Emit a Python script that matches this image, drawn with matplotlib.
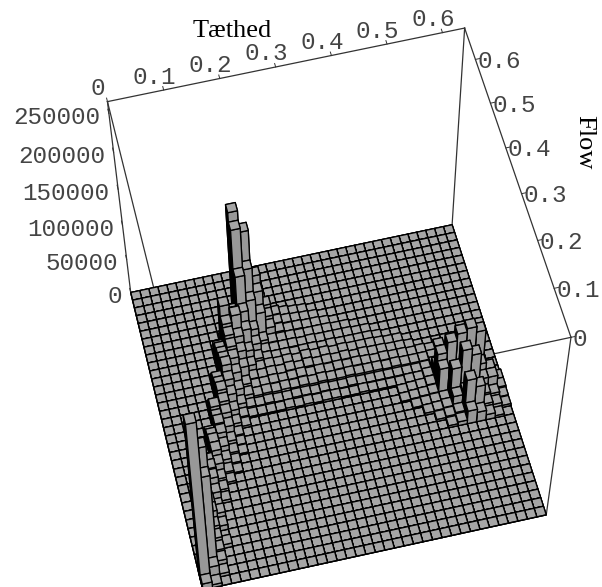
# 3D histogram of flow against density
import numpy as np
import matplotlib
matplotlib.use('Agg')
import matplotlib.pyplot as plt

n_cols = 36
n_rows = 36
t_max = 0.64
f_max = 0.673
z_max = 265000

t_ticks = [0, 0.1, 0.2, 0.3, 0.4, 0.5, 0.6]
f_ticks = [0, 0.1, 0.2, 0.3, 0.4, 0.5, 0.6]
z_ticks = [0, 50000, 100000, 150000, 200000, 250000]

# rows are counted from the back edge of the floor, heights in thousands
back_rows = [5, 6, 7, 8, 9, 10, 11, 12, 13, 14, 15, 16, 17, 18, 19, 20, 21, 22, 23, 24,
             25, 26, 27, 28, 29, 30, 31, 32, 33, 34, 35]
first_cols = [10, 9, 9, 8, 8, 7, 7, 7, 6, 6, 6, 5, 5, 5, 4, 4, 4, 3, 3, 3,
              2, 2, 2, 2, 1, 1, 1, 1, 1, 0, 0]
heights_k = [
    [3],
    [5, 168, 138, 72, 25, 8, 5, 3, 2],
    [15, 155, 96, 60, 20, 7, 5, 4, 3, 2],
    [10, 50, 100, 62, 40, 15, 6, 4, 4, 3, 3, 2],
    [75, 58, 60, 30, 10, 5, 4, 4, 3, 3, 3, 3, 2, 2],
    [25, 60, 70, 45, 20, 5, 4, 4, 4, 3, 4, 3, 3, 3, 3, 2, 2],
    [35, 55, 50, 25, 10, 5, 4, 4, 3, 4, 4, 3, 4, 3, 3, 3, 3, 2],
    [40, 50, 40, 15, 6, 7, 6, 7, 5, 8, 6, 7, 5, 6, 5, 5, 5, 4, 3, 3],
    [15, 45, 45, 28, 7, 6, 7, 6, 8, 6, 8, 6, 7, 6, 7, 5, 6, 5, 5, 4, 4, 3],
    [30, 50, 35, 14, 6, 6, 7, 6, 7, 8, 6, 7, 6, 7, 6, 7, 6, 5, 6, 5, 5, 4, 5, 4, 8],
    [35, 40, 22, 10, 6, 7, 6, 7, 6, 7, 6, 7, 6, 6, 7, 6, 6, 6, 5, 6, 5, 5, 5, 6, 10, 12],
    [15, 40, 30, 12, 4, 3, 4, 3, 3, 4, 4, 3, 4, 3, 3, 4, 3, 3, 3, 3, 3, 3, 3, 4, 8, 14, 16, 10],
    [30, 35, 18, 5, 2, 2, 2, 2, 3, 2, 3, 2, 3, 3, 2, 2, 3, 2, 2, 2, 2, 3, 3, 6, 20, 25, 30, 25],
    [25, 30, 10, 3, 0, 0, 0, 0, 0, 0, 0, 0, 0, 0, 0, 0, 0, 0, 0, 0, 2, 3, 4, 6, 50, 65, 75, 80, 72, 8],
    [15, 30, 22, 5, 0, 0, 0, 0, 0, 0, 0, 0, 0, 0, 0, 0, 0, 0, 0, 0, 0, 2, 3, 4, 5, 40, 30, 30, 30, 35, 25, 6],
    [25, 28, 12, 3, 0, 0, 0, 0, 0, 0, 0, 0, 0, 0, 0, 0, 0, 0, 0, 0, 0, 0, 2, 3, 4, 5, 50, 75, 65, 25, 25, 6],
    [30, 20, 7, 2, 0, 0, 0, 0, 0, 0, 0, 0, 0, 0, 0, 0, 0, 0, 0, 0, 0, 0, 0, 3, 4, 6, 20, 25, 20, 15, 12, 4],
    [12, 30, 12, 4, 0, 0, 0, 0, 0, 0, 0, 0, 0, 0, 0, 0, 0, 0, 0, 0, 0, 0, 0, 0, 0, 3, 5, 8, 55, 42, 12, 8, 3],
    [28, 22, 6, 2, 0, 0, 0, 0, 0, 0, 0, 0, 0, 0, 0, 0, 0, 0, 0, 0, 0, 0, 0, 0, 0, 0, 3, 6, 20, 15, 8, 3],
    [32, 12, 3],
    [10, 30, 8],
    [28, 20, 4],
    [30, 10],
    [35, 15],
    [15, 35, 8],
    [35, 25],
    [110, 20, 6],
    [180, 15],
    [150, 12],
    [245, 20, 5],
    [10, 5],
]

grey_top = '#a6a6a6'
grey_front = '#989898'
tick_grey = '#444444'

# where the box corners land in the picture, (t, f, z) -> (x, y) from top left
box_corners = [(0, 1, 1), (1, 1, 1), (1, 0, 1), (0, 1, 0), (1, 1, 0), (1, 0, 0), (0, 0, 0)]
box_pixels = [(107, 102), (466, 28), (570, 337), (131, 292), (451, 225), (547, 515), (203, 590)]

W, H = 602, 587
fig = plt.figure(figsize=(W / 100, H / 100), dpi=100)
ax = fig.add_axes([0, 0, 1, 1], projection='3d', computed_zorder=False)
ax.set_axis_off()


def fit_camera():
    rows = []
    for (a, b, c), (px, py) in zip(box_corners, box_pixels):
        py = H - py
        rows.append([a, b, c, 1, 0, 0, 0, 0, -px * a, -px * b, -px * c, -px])
        rows.append([0, 0, 0, 0, a, b, c, 1, -py * a, -py * b, -py * c, -py])
    p = np.linalg.svd(np.array(rows, dtype=float))[2][-1].reshape(3, 4)
    p = p @ np.diag([1 / t_max, 1 / f_max, 1 / z_max, 1])
    if p[2] @ np.array([t_max / 2, f_max / 2, 0, 1]) < 0:
        p = -p
    return p / p[2, 3]


camera = fit_camera()


def get_proj():
    # picture pixels to the 2d coordinates of the axes
    a = ax.transData.inverted().get_matrix()
    p = a @ camera
    return np.array([p[0], p[1], [0, 0, 0, -1], p[2]])


ax.get_proj = get_proj


def tick_label(t, f, z, dx, dy, s, ha):
    # label placed by pixels away from its tick, so it stays plain 2d text
    x, y, w = camera @ np.array([t, f, z, 1])
    fig.text((x / w + dx) / W, (y / w - dy) / H, s, family='Liberation Mono', fontsize=17.5,
             color=tick_grey, ha=ha, va='center')


dt = t_max / n_cols
df = f_max / n_rows
face_colors = [grey_top, grey_top, grey_front, grey_front, 'black', 'black']

# box lines go behind the floor
box_edges = [((0, t_max), (f_max, f_max), (z_max, z_max)),
             ((t_max, t_max), (0, f_max), (z_max, z_max)),
             ((0, 0), (0, f_max), (z_max, z_max)),
             ((0, t_max), (0, 0), (z_max, z_max)),
             ((0, 0), (f_max, f_max), (0, z_max)),
             ((t_max, t_max), (f_max, f_max), (0, z_max)),
             ((t_max, t_max), (0, 0), (0, z_max))]
for xs, ys, zs in box_edges:
    ax.plot(xs, ys, zs, color='#333333', lw=0.9, zorder=0)

for t in t_ticks:
    ax.plot([t, t], [f_max, f_max + 0.008], [z_max, z_max], color='#333333', lw=0.7, zorder=0)
    tick_label(t, f_max, z_max, -9.5, -13, str(t), 'center')
for f in f_ticks:
    ax.plot([t_max, t_max + 0.008], [f, f], [z_max, z_max], color='#333333', lw=0.7, zorder=0)
    tick_label(t_max, f, z_max, 2, 2, str(f), 'left')
for z in z_ticks:
    ax.plot([0, 0], [f_max, f_max + 0.01], [z, z], color='#333333', lw=0.7, zorder=0)
    tick_label(0, f_max, z, -8.5, 4, str(z), 'right')

fig.text(232 / W, 1 - 31 / H, 'Tæthed', family='Liberation Serif', fontsize=19,
         ha='center', va='center')
fig.text(584 / W, 1 - 142 / H, 'Flow', family='Liberation Serif', fontsize=19,
         rotation=-90, ha='center', va='center')

# floor
col_grid, row_grid = np.meshgrid(np.arange(n_cols), np.arange(n_rows))
ax.bar3d(col_grid.ravel() * dt, row_grid.ravel() * df, 0, dt, df, 0, color=grey_top,
         edgecolor='black', linewidth=0.95, shade=False, zorder=1)

# bars, far ones first
bars = []
for back, first, row_heights in zip(back_rows, first_cols, heights_k):
    for k, h in enumerate(row_heights):
        if h > 0:
            bars.append((back, first + k, h * 1000))
bars.sort(key=lambda b: (b[0], -b[1]))
for order, (back, col, h) in enumerate(bars):
    ax.bar3d(col * dt, (n_rows - 1 - back) * df, 0, dt, df, h, color=face_colors,
             edgecolor='black', linewidth=0.95, shade=False, zorder=2 + order)

fig.savefig('out.png', dpi=100)
